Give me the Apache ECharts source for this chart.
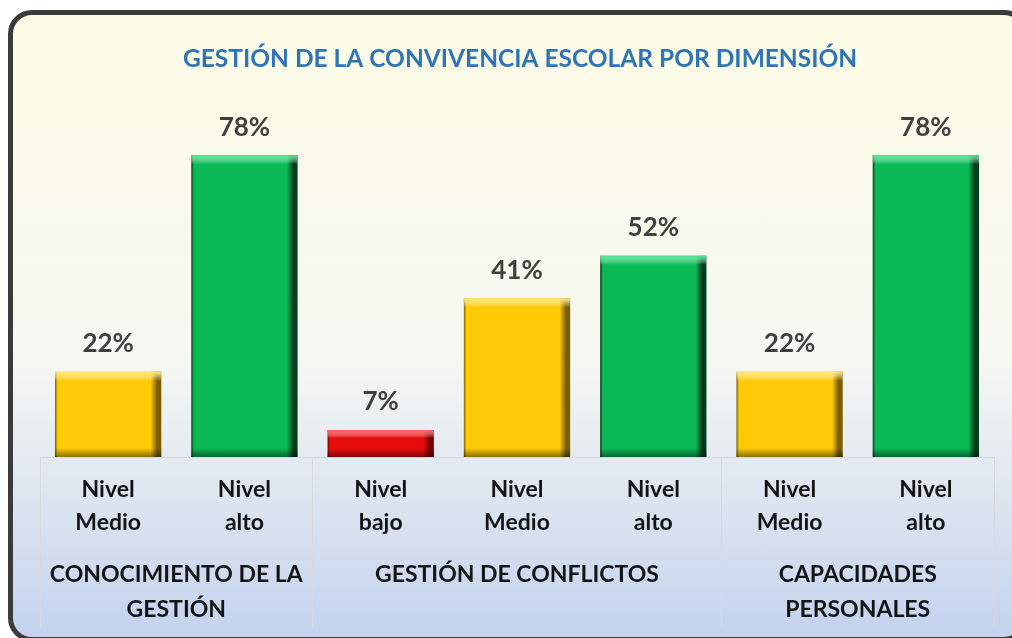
<!DOCTYPE html>
<html>
<head>
<meta charset="utf-8">
<script src="https://cdn.jsdelivr.net/npm/echarts@6/dist/echarts.min.js"></script>
<style>
* { margin: 0; padding: 0; }
body { width: 1012px; height: 638px; overflow: hidden; background: #ffffff; position: relative; }
#box {
  position: absolute; left: 8px; top: 10px; width: 1020px; height: 632px;
  box-sizing: border-box; border: 5px solid #3b3b3b; border-radius: 24px;
  background: linear-gradient(to bottom, #fcfce6 0%, #f6f8f2 55%, #c4d2ee 100%);
}
#main { position: absolute; left: 0; top: 0; width: 1012px; height: 638px; }
</style>
</head>
<body>
<div id="box"></div>
<div id="main"></div>
<script>
// datos
var titulo = "GESTIÓN DE LA CONVIVENCIA ESCOLAR POR DIMENSIÓN";
var niveles = ["Nivel\nMedio", "Nivel\nalto", "Nivel\nbajo", "Nivel\nMedio", "Nivel\nalto", "Nivel\nMedio", "Nivel\nalto"];
var valores = [22, 78, 7, 41, 52, 22, 78];
var dimensiones = ["CONOCIMIENTO DE LA\nGESTIÓN", "GESTIÓN DE CONFLICTOS", "CAPACIDADES\nPERSONALES"];
var tamDimension = [2, 3, 2];

// colores por nivel: [base, borde oscuro, borde claro]
var colores = {
  bajo: ["#e60d0d", "#7a0000", "#ff5a5a"],
  Medio: ["#ffca06", "#7a5e00", "#ffe36e"],
  alto: ["#0bb955", "#033d1d", "#4be690"]
};

// posiciones de las dimensiones en el eje inferior
var limites = [0], centros = [];
tamDimension.forEach(function (n, i) {
  centros.push(limites[i] + n / 2);
  limites.push(limites[i] + n);
});

var chart = echarts.init(document.getElementById("main"));

var barras = valores.map(function (v, i) {
  var c = colores[niveles[i].split("\n")[1]];
  return {
    value: v,
    itemStyle: {
      color: new echarts.graphic.LinearGradient(0, 0, 1, 0, [
        { offset: 0, color: c[1] },
        { offset: 0.025, color: c[0] },
        { offset: 0.07, color: c[0] },
        { offset: 0.9, color: c[0] },
        { offset: 0.96, color: c[1] },
        { offset: 1, color: c[1] }
      ])
    }
  };
});

// capa de bisel (arriba claro, abajo oscuro)
var bisel = valores.map(function (v, i) {
  var c = colores[niveles[i].split("\n")[1]];
  var f = Math.min(0.3, 9 / (v * 3.87));
  return {
    value: v,
    itemStyle: {
      color: new echarts.graphic.LinearGradient(0, 0, 0, 1, [
        { offset: 0, color: c[2] },
        { offset: f, color: "rgba(255,255,255,0)" },
        { offset: 1 - f, color: "rgba(0,0,0,0)" },
        { offset: 1, color: "rgba(0,0,0,0.45)" }
      ])
    }
  };
});

chart.setOption({
  backgroundColor: "transparent",
  title: {
    text: titulo,
    left: 178,
    top: 42,
    textStyle: {
      color: "#2e74b6",
      fontFamily: "Lato",
      fontWeight: "bold",
      fontSize: 24.5
    }
  },
  grid: {
    left: 40,
    right: 18,
    top: 70,
    bottom: 181
  },
  xAxis: [
    {
      type: "category",
      data: niveles,
      axisLine: { lineStyle: { color: "#d6d9de", width: 1 } },
      axisTick: { show: false },
      axisLabel: {
        interval: 0,
        margin: 16,
        color: "#141414",
        fontFamily: "Lato",
        fontWeight: "bold",
        fontSize: 23,
        lineHeight: 33
      }
    },
    {
      type: "value",
      min: 0,
      max: limites[limites.length - 1],
      position: "bottom",
      axisLine: { show: false },
      splitLine: { show: false },
      axisTick: {
        show: true,
        customValues: limites,
        length: 171,
        lineStyle: { color: "#d6d9de", width: 1 }
      },
      axisLabel: {
        customValues: centros,
        margin: 100,
        color: "#141414",
        fontFamily: "Lato",
        fontWeight: "bold",
        fontSize: 23,
        lineHeight: 35,
        formatter: function (v) {
          var k = centros.indexOf(v);
          return k >= 0 ? dimensiones[k] : "";
        }
      }
    }
  ],
  yAxis: {
    type: "value",
    min: 0,
    max: 100,
    show: false,
    splitLine: { show: false }
  },
  series: [
    {
      type: "bar",
      xAxisIndex: 0,
      barWidth: "78%",
      data: barras,
      label: {
        show: true,
        position: "top",
        distance: 15,
        formatter: "{c}%",
        color: "#404040",
        fontFamily: "Lato",
        fontWeight: "bold",
        fontSize: 26
      }
    },
    {
      type: "bar",
      xAxisIndex: 0,
      barWidth: "78%",
      barGap: "-100%",
      silent: true,
      data: bisel
    }
  ]
});
</script>
</body>
</html>
